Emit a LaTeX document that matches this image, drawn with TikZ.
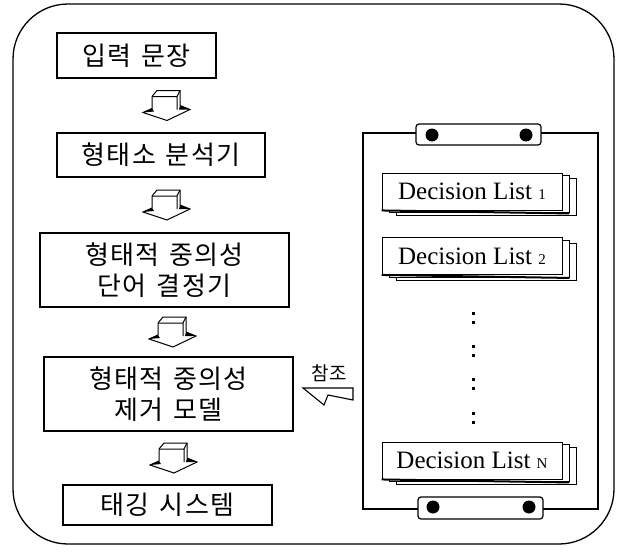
\documentclass[tikz,border=0pt]{standalone}
\usepackage{fontspec}
\setmainfont{Liberation Serif}
\newfontfamily\kr[WordSpace=1.4, LetterSpace=5]{Noto Sans CJK KR}
\usetikzlibrary{calc}

\tikzset{
  stage/.style={draw, line width=1.2pt, inner sep=0pt, align=center,
    font=\kr\fontsize{26}{31}\selectfont},
  sheet/.style={draw, fill=white, line width=0.9pt, minimum width=180,
    minimum height=37, inner sep=0pt, font=\fontsize{25}{25}\selectfont},
  blockarrow/.pic={
    \draw[line width=1pt, fill=white] (-14,3) -- (-14,-9) -- (-9,-15) -- (14,-15)
      -- (14,0) -- (24,4) -- (1,15) -- (-23,7) -- cycle;
    \draw[line width=1pt] (-14,-9) -- (11,-9) -- (14,-15) (11,-9) -- (11,4);
    \fill (-14,3) -- (-23,7) -- (-12,6) -- cycle;
    \fill (14,0) -- (24,4) -- (13,4) -- cycle;
  }
}

\newcommand{\declist}[3]{%
  \foreach \d in {14,7}
    \node[sheet] at ($(#2)+(\d,\d*0.4)$) {};
  \node[sheet] (#1) at (#2) {Decision List {\fontsize{15}{15}\selectfont #3}};
  \draw[line width=2pt] (#1.south west) -- ($(#1.south east)+(7,3)$);
}

\begin{document}
\begin{tikzpicture}[x=1pt, y=-1pt]
  \useasboundingbox (0,0) rectangle (622,554);

  % outer frame
  \draw[line width=1.3pt, rounded corners=55] (13,4) rectangle (614,544);

  % left pipeline
  \node[stage, minimum width=159, minimum height=45] (input) at (136.5,55.5) {입력 문장};
  \node[stage, minimum width=208, minimum height=44] (morph) at (161,155) {형태소 분석기};
  \node[stage, minimum width=249, minimum height=74] (cand) at (164.5,270) {형태적 중의성\\단어 결정기};
  \node[stage, minimum width=249, minimum height=74] (model) at (168.5,394) {형태적 중의성\\제거 모델};
  \node[stage, minimum width=209, minimum height=40] (tag) at (167.5,505) {태깅 시스템};

  \coordinate (m1) at ($(input.south)!0.5!(morph.north)$);
  \coordinate (m2) at ($(morph.south)!0.5!(cand.north)$);
  \coordinate (m3) at ($(cand.south)!0.5!(model.north)$);
  \coordinate (m4) at ($(model.south)!0.5!(tag.north)$);
  \pic at (166,0 |- m1) {blockarrow};
  \pic at (166,0 |- m2) {blockarrow};
  \pic at (172,0 |- m3) {blockarrow};
  \pic at (173,0 |- m4) {blockarrow};

  % clipboard with decision lists
  \draw[line width=1.6pt] (363,133) rectangle (598,509);
  \draw[line width=1.2pt, fill=white, rounded corners=3] (416,124) rectangle (541,145);
  \draw[line width=1.2pt, fill=white, rounded corners=3] (418,497) rectangle (543,519);
  \fill (432,135) circle (6.5) (526,135) circle (6.5);
  \fill (433,507) circle (6.5) (529,507) circle (6.5);

  \coordinate (p1) at (472,191.5);
  \coordinate (p2) at (472,256);
  \coordinate (pN) at (472,460.5);
  \declist{dl1}{p1}{1}
  \declist{dl2}{p2}{2}
  \declist{dlN}{pN}{N}

  \foreach \y in {313,322,346,355,379,388,413,422}
    \fill (471.5,\y-1.5) rectangle ++(3,3);

  % reference arrow
  \node[font=\kr\fontsize{19}{19}\selectfont, inner sep=0pt] (ref) at (329,373) {참조};
  \draw[line width=1.1pt, fill=white] (303,388) -- (353,388) -- (353,400)
    -- (328,395) -- (324,405) -- cycle;
\end{tikzpicture}
\end{document}
